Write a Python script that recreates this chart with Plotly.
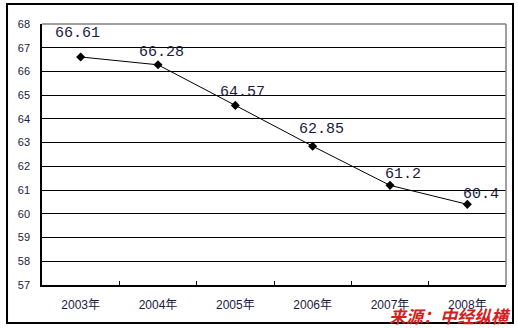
import plotly.graph_objects as go

years = ["2003年", "2004年", "2005年", "2006年", "2007年", "2008年"]
values = [66.61, 66.28, 64.57, 62.85, 61.2, 60.4]
value_labels = ["66.61", "66.28", "64.57", "62.85", "61.2", "60.4"]
y_ticks = list(range(57, 69))

# label offsets in px (style only)
label_dx = [-3, 3, 7, 9, 13, 14]
label_dy = [23, 12, 13, 17, 11, 10]

fig = go.Figure()
fig.add_trace(go.Scatter(
    x=years, y=values, mode="lines+markers",
    line=dict(color="black", width=1),
    marker=dict(symbol="diamond", size=7, color="black"),
    hoverinfo="skip", showlegend=False,
))

for yr, v, t, dx, dy in zip(years, values, value_labels, label_dx, label_dy):
    fig.add_annotation(
        x=yr, y=v, text=t, showarrow=False, xshift=dx, yshift=dy,
        font=dict(family="Liberation Mono, monospace", size=15, color="#1a1a40"),
    )

fig.add_annotation(
    x=1.016, y=-0.115, xref="paper", yref="paper", xanchor="right", yanchor="middle",
    text="<b><i>来源：中经纵横</i></b>", showarrow=False,
    font=dict(family="Noto Sans CJK SC", size=17, color="#d42020"),
)

# plot area gray top/right border
fig.add_shape(type="line", xref="paper", yref="paper", x0=0, x1=1, y0=1, y1=1,
              line=dict(color="#808080", width=1.5), layer="above")
fig.add_shape(type="line", xref="paper", yref="paper", x0=1, x1=1, y0=0, y1=1,
              line=dict(color="#808080", width=1.5), layer="above")
# outer frame
fig.add_shape(type="rect", xref="paper", yref="paper",
              x0=-0.0754, x1=1.0151, y0=-0.1456, y1=1.0766,
              line=dict(color="black", width=2), layer="above")

fig.update_layout(
    width=518, height=328,
    margin=dict(l=42, r=12, t=24, b=43),
    paper_bgcolor="white", plot_bgcolor="white",
    font=dict(family="Liberation Sans, Arial", color="#1a1a40"),
)
fig.update_xaxes(
    type="category", range=[-0.5, 5.5], showgrid=False, showline=True,
    linecolor="black", linewidth=1.5,
    ticks="inside", ticklen=4, tickcolor="black", tickson="boundaries",
    tickfont=dict(size=12, family="Liberation Sans, Noto Sans CJK SC"),
    ticklabelstandoff=8,
)
fig.update_yaxes(
    range=[57, 68], tickvals=y_ticks, showgrid=True, gridcolor="black", gridwidth=1,
    showline=True, linecolor="black", linewidth=1.5, ticks="", zeroline=False,
    tickfont=dict(size=11), ticklabelstandoff=8,
)

fig.write_html("out.html")
